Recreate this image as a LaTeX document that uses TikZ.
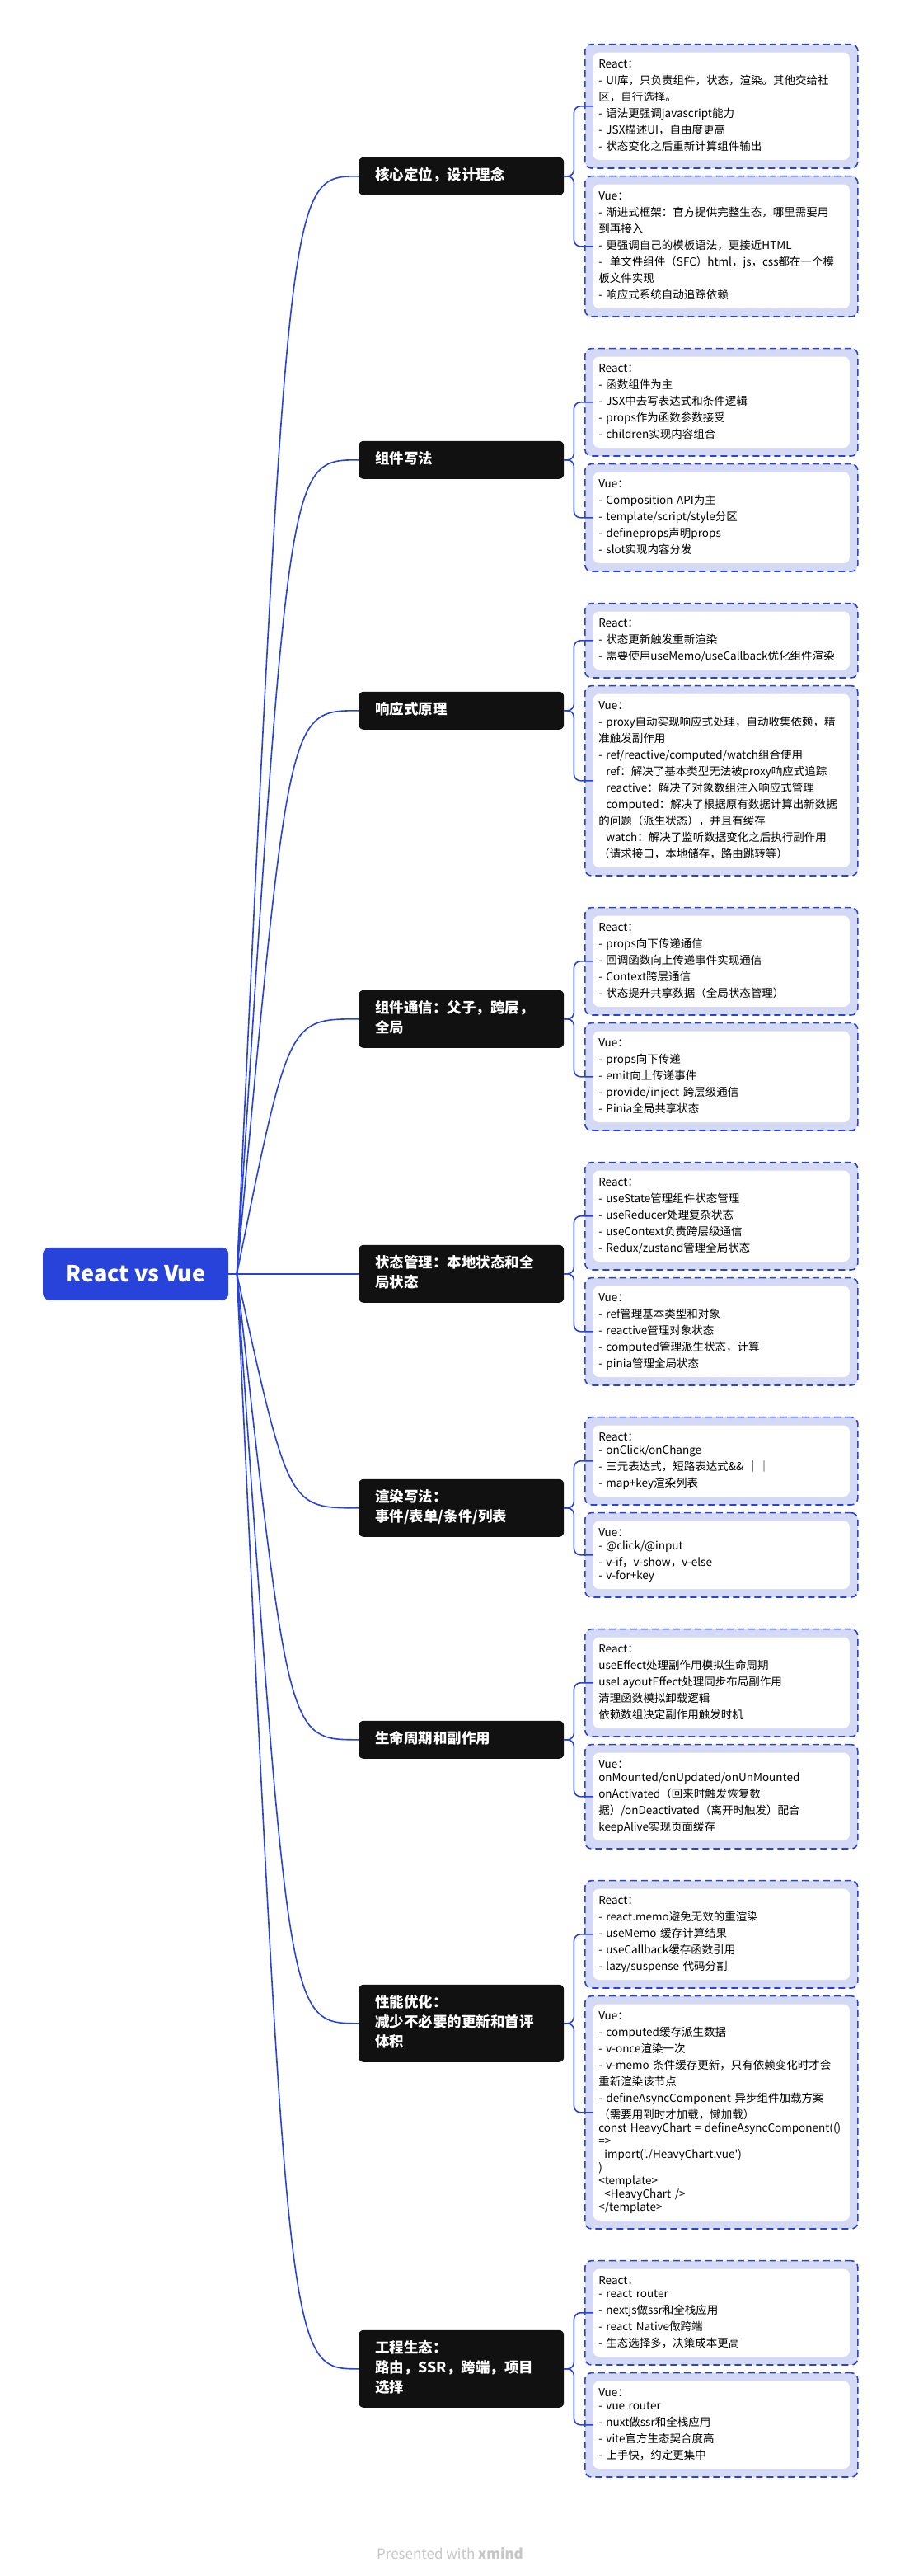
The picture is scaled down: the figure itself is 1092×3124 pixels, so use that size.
\documentclass[tikz,border=0pt]{standalone}
\usepackage{fontspec}
\setmainfont{Noto Sans CJK SC}[Ligatures=TeXOff]
\usetikzlibrary{positioning,calc}

\definecolor{mapblue}{HTML}{2743DA}
\definecolor{leaffill}{HTML}{D4D9F5}
\definecolor{topicbg}{HTML}{111111}

\tikzset{
  link/.style={draw=mapblue, line width=1.6pt},
  root/.style={fill=mapblue, text=white, rounded corners=8pt,
    minimum width=225pt, minimum height=64pt,
    font=\fontsize{27}{30}\selectfont\bfseries},
  topic/.style={fill=topicbg, text=white, rounded corners=6pt,
    text width=209pt, inner xsep=20pt, inner ysep=11pt, align=left,
    font=\fontsize{17.5}{24}\selectfont\bfseries,
    execute at begin node=\strut, execute at end node=\strut},
  leaf/.style={draw=mapblue, line width=1.6pt, dash pattern=on 8pt off 5pt,
    fill=leaffill, rounded corners=8pt,
    text width=298pt, inner xsep=16.5pt, inner ysep=15.2pt, align=left,
    font=\fontsize{13.5}{20}\selectfont,
    execute at begin node=\strut, execute at end node=\strut,
    path picture={
      \fill[white, rounded corners=7pt]
        ([shift={(10pt,-10pt)}]path picture bounding box.north west) rectangle
        ([shift={(-10pt,10pt)}]path picture bounding box.south east);
    }},
  footer/.style={text=black!22, font=\fontsize{17}{20}\selectfont}
}

\begin{document}
\begin{tikzpicture}[x=1pt, y=1pt]
  \useasboundingbox (0,0) rectangle (1092,-3124);
  \fill[white] (0,0) rectangle (1092,-3124);

  % React / Vue notes, column on the right
  \node[leaf, anchor=north west] (r1) at (709,-52.8) {React：\\
    -~UI库，只负责组件，状态，渲染。其他交给社\\
    区，自行选择。\\
    -~语法更强调javascript能力\\
    -~JSX描述UI，自由度更高\\
    -~状态变化之后重新计算组件输出};
  \node[leaf, below=8pt of r1] (v1) {Vue：\\
    -~渐进式框架：官方提供完整生态，哪里需要用\\
    到再接入\\
    -~更强调自己的模板语法，更接近HTML\\
    -~~单文件组件（SFC）html，js，css都在一个模\\
    板文件实现\\
    -~响应式系统自动追踪依赖};

  \node[leaf, below=37pt of v1] (r2) {React：\\
    -~函数组件为主\\
    -~JSX中去写表达式和条件逻辑\\
    -~props作为函数参数接受\\
    -~children实现内容组合};
  \node[leaf, below=8pt of r2] (v2) {Vue：\\
    -~Composition API为主\\
    -~template/script/style分区\\
    -~defineprops声明props\\
    -~slot实现内容分发};

  \node[leaf, below=37pt of v2] (r3) {React：\\
    -~状态更新触发重新渲染\\
    -~需要使用useMemo/useCallback优化组件渲染};
  \node[leaf, below=8pt of r3] (v3) {Vue：\\
    -~proxy自动实现响应式处理，自动收集依赖，精\\
    准触发副作用\\
    -~ref/reactive/computed/watch组合使用\\
    \hspace*{9pt}ref：解决了基本类型无法被proxy响应式追踪\\
    \hspace*{9pt}reactive：解决了对象数组注入响应式管理\\
    \hspace*{9pt}computed：解决了根据原有数据计算出新数据\\
    的问题（派生状态），并且有缓存\\
    \hspace*{9pt}watch：解决了监听数据变化之后执行副作用\\
    （请求接口，本地储存，路由跳转等）};

  \node[leaf, below=37pt of v3] (r4) {React：\\
    -~props向下传递通信\\
    -~回调函数向上传递事件实现通信\\
    -~Context跨层通信\\
    -~状态提升共享数据（全局状态管理）};
  \node[leaf, below=8pt of r4] (v4) {Vue：\\
    -~props向下传递\\
    -~emit向上传递事件\\
    -~provide/inject 跨层级通信\\
    -~Pinia全局共享状态};

  \node[leaf, below=37pt of v4] (r5) {React：\\
    -~useState管理组件状态管理\\
    -~useReducer处理复杂状态\\
    -~useContext负责跨层级通信\\
    -~Redux/zustand管理全局状态};
  \node[leaf, below=8pt of r5] (v5) {Vue：\\
    -~ref管理基本类型和对象\\
    -~reactive管理对象状态\\
    -~computed管理派生状态，计算\\
    -~pinia管理全局状态};

  \node[leaf, below=37pt of v5] (r6) {React：\\[-4pt]
    -~onClick/onChange\\
    -~三元表达式，短路表达式\&\&~｜｜\\
    -~map+key渲染列表};
  \node[leaf, below=8pt of r6] (v6) {Vue：\\[-4pt]
    -~@click/@input\\
    -~v-if，v-show，v-else\\[-4pt]
    -~v-for+key};

  \node[leaf, below=37pt of v6] (r7) {React：\\
    useEffect处理副作用模拟生命周期\\
    useLayoutEffect处理同步布局副作用\\
    清理函数模拟卸载逻辑\\
    依赖数组决定副作用触发时机};
  \node[leaf, below=8pt of r7] (v7) {Vue：\\[-4pt]
    onMounted/onUpdated/onUnMounted\\
    onActivated（回来时触发恢复数\\
    据）/onDeactivated（离开时触发）配合\\
    keepAlive实现页面缓存};

  \node[leaf, below=37pt of v7] (r8) {React：\\
    -~react.memo避免无效的重渲染\\
    -~useMemo 缓存计算结果\\
    -~useCallback缓存函数引用\\
    -~lazy/suspense 代码分割};
  \node[leaf, below=8pt of r8] (v8) {Vue：\\
    -~computed缓存派生数据\\
    -~v-once渲染一次\\
    -~v-memo 条件缓存更新，只有依赖变化时才会\\
    重新渲染该节点\\
    -~defineAsyncComponent 异步组件加载方案\\
    （需要用到时才加载，懒加载）\\[-4pt]
    const HeavyChart = defineAsyncComponent(()\\[-4pt]
    =>\\[-4pt]
    \hspace*{7pt}import('./HeavyChart.vue')\\[-4pt]
    )\\[-4pt]
    <template>\\[-4pt]
    \hspace*{7pt}<HeavyChart />\\[-4pt]
    </template>};

  \node[leaf, below=37pt of v8] (r9) {React：\\[-4pt]
    -~react router\\
    -~nextjs做ssr和全栈应用\\
    -~react Native做跨端\\
    -~生态选择多，决策成本更高};
  \node[leaf, below=8pt of r9] (v9) {Vue：\\[-4pt]
    -~vue router\\
    -~nuxt做ssr和全栈应用\\
    -~vite官方生态契合度高\\
    -~上手快，约定更集中};

  % topics, centred between their two notes
  \foreach \i/\txt in {
      1/{核心定位，设计理念},
      2/{组件写法},
      3/{响应式原理},
      4/{组件通信：父子，跨层，\\全局},
      5/{状态管理：本地状态和全\\局状态},
      6/{渲染写法：\\事件/表单/条件/列表},
      7/{生命周期和副作用},
      8/{性能优化：\\减少不必要的更新和首评\\体积},
      9/{工程生态：\\路由，SSR，跨端，项目\\选择}}
    \node[topic, anchor=west] (t\i) at ($(r\i.west)!0.5!(v\i.west)+(-274,0)$) {\txt};

  \coordinate (rootleft) at (52,0);
  \node[root, anchor=west] (root) at (rootleft |- t5) {React vs Vue};
  \coordinate (hub) at ($(root.east)+(10,0)$);

  % connectors
  \foreach \i in {1,...,9} {
    \draw[link] (root.east) -- (hub)
      .. controls ($(t\i.west)+(-85,0)$) and ($(t\i.west)+(-85,0)$) .. (t\i.west);
    \draw[link, rounded corners=8pt] (t\i.east) -- ++(12,0) |- ($(r\i.west)+(11,0)$);
    \draw[link, rounded corners=8pt] (t\i.east) -- ++(12,0) |- ($(v\i.west)+(11,0)$);
  }

  \node[footer] (credit) at (546,-3097) {Presented with \textbf{xmind}};
\end{tikzpicture}
\end{document}
